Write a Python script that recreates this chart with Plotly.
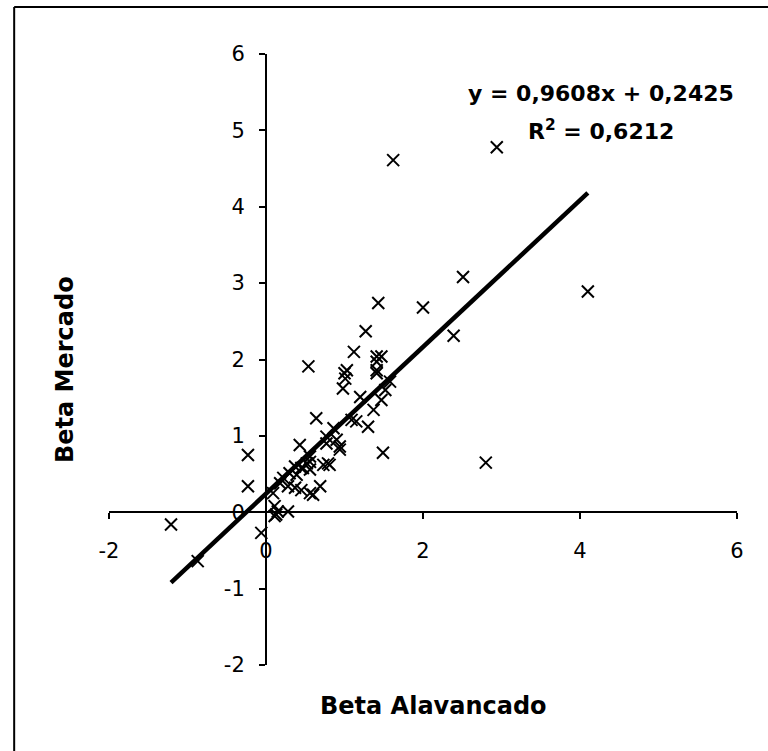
import plotly.graph_objects as go

# Data (Beta Alavancado vs Beta Mercado)
beta_alavancado = [
    -1.21, -0.87, -0.23, -0.23, -0.06,
    1.43, 2.00, 1.27, 1.12, 1.41, 1.47, 0.54, 1.41, 1.03, 1.01, 0.98,
    1.58, 1.52, 1.20, 1.47, 1.37, 0.64, 1.09, 1.15, 1.30, 0.86, 0.77,
    0.90, 0.43, 0.94, 1.49, 0.79, 0.56, 0.47, 0.69, 0.56, 0.60, 0.11,
    0.28, 0.13, 0.77, 0.94, 0.56, 0.52, 0.73, 0.81, 0.37, 0.45, 0.30,
    0.22, 0.39, 0.56, 0.18, 0.28, 0.37, 0.45, 0.09, 0.15, 0.11,
    2.51, 2.39, 1.41, 1.00, 1.41, 1.62, 2.94, 4.10, 2.80,
]
beta_mercado = [
    -0.16, -0.64, 0.75, 0.34, -0.27,
    2.74, 2.68, 2.37, 2.10, 2.04, 2.04, 1.91, 1.86, 1.86, 1.75, 1.62,
    1.71, 1.60, 1.51, 1.47, 1.34, 1.23, 1.21, 1.19, 1.12, 1.10, 0.99,
    0.95, 0.88, 0.86, 0.78, 0.64, 0.66, 0.58, 0.34, 0.25, 0.23, 0.08,
    0.01, -0.03, 0.90, 0.82, 0.73, 0.64, 0.62, 0.62, 0.60, 0.58, 0.51,
    0.45, 0.49, 0.56, 0.38, 0.34, 0.32, 0.29, 0.25, 0.01, -0.05,
    3.08, 2.31, 1.97, 1.82, 1.82, 4.61, 4.78, 2.89, 0.65,
]

# Linear trendline shown on the chart
slope = 0.9608
intercept = 0.2425
equation_text = "y = 0,9608x + 0,2425"
r2_text = "R<sup>2</sup> = 0,6212"

x_title = "Beta Alavancado"
y_title = "Beta Mercado"
x_ticks = [-2, 0, 2, 4, 6]
x_tick_labels = ["-2", "0", "2", "4", "6"]
y_ticks = [-2, -1, 0, 1, 2, 3, 4, 5, 6]
y_tick_labels = ["-2", "-1", "0", "1", "2", "3", "4", "5", "6"]

trend_x = [min(beta_alavancado), max(beta_alavancado)]
trend_y = [slope * v + intercept for v in trend_x]

FONT = "DejaVu Sans"

fig = go.Figure()
fig.add_trace(go.Scatter(
    x=beta_alavancado, y=beta_mercado, mode="markers",
    marker=dict(symbol="x-thin-open", size=12, color="black",
                line=dict(width=2, color="black")),
    showlegend=False, hoverinfo="x+y",
))
fig.add_trace(go.Scatter(
    x=trend_x, y=trend_y, mode="lines",
    line=dict(color="black", width=4.5),
    showlegend=False, hoverinfo="skip",
))

axis_common = dict(
    range=[-2, 6], showgrid=False, zeroline=False,
    showline=True, linecolor="black", linewidth=2,
    ticks="outside", ticklen=6, tickwidth=2, tickcolor="black",
    tickfont=dict(family=FONT, size=21, color="black"),
    anchor="free", position=0.25, fixedrange=True,
)

fig.update_layout(
    width=768, height=751,
    margin=dict(l=109, r=31, t=54, b=86),
    paper_bgcolor="white", plot_bgcolor="white",
    xaxis=dict(**axis_common, tickvals=x_ticks, ticktext=x_tick_labels,
               ticklabelstandoff=14),
    yaxis=dict(**axis_common, tickvals=y_ticks, ticktext=y_tick_labels,
               ticklabelstandoff=10),
    font=dict(family=FONT, color="black"),
    shapes=[
        dict(type="line", xref="paper", yref="paper",
             x0=-0.151, x1=-0.151, y0=-0.3, y1=1.077,
             line=dict(color="black", width=2)),
        dict(type="line", xref="paper", yref="paper",
             x0=-0.151, x1=1.3, y0=1.077, y1=1.077,
             line=dict(color="black", width=2)),
    ],
    annotations=[
        dict(text=f"<b>{x_title}</b>", xref="paper", yref="paper",
             x=(433 - 109) / 628, y=(665 - 706) / 611,
             xanchor="center", yanchor="middle", showarrow=False,
             font=dict(family=FONT, size=24, color="black")),
        dict(text=f"<b>{y_title}</b>", xref="paper", yref="paper",
             x=(65 - 109) / 628, y=(665 - 370) / 611, textangle=-90,
             xanchor="center", yanchor="middle", showarrow=False,
             font=dict(family=FONT, size=24, color="black")),
        dict(text=f"<b>{equation_text}</b>", xref="paper", yref="paper",
             x=(601 - 109) / 628, y=(665 - 94) / 611,
             xanchor="center", yanchor="middle", showarrow=False,
             font=dict(family=FONT, size=22, color="black")),
        dict(text=f"<b>{r2_text}</b>", xref="paper", yref="paper",
             x=(601 - 109) / 628, y=(665 - 130) / 611,
             xanchor="center", yanchor="middle", showarrow=False,
             font=dict(family=FONT, size=22, color="black")),
    ],
)

fig.write_html("out.html",
               config={"displayModeBar": False},
               post_script="document.body.style.margin='0px';")
